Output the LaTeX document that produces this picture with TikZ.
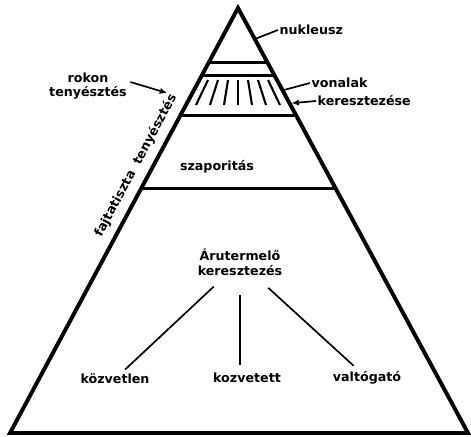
\documentclass[tikz,border=0pt]{standalone}
\usepackage{fontspec}
\setmainfont{DejaVu Sans}
\usetikzlibrary{arrows.meta,positioning,calc}

\begin{document}
\begin{tikzpicture}[
    font=\fontsize{9}{10.5}\selectfont\bfseries,
    >={Latex[length=1.8mm, width=1.6mm]},
    outline/.style={draw=black, line width=2.8pt, line join=miter},
    band/.style={draw=black, line width=2.1pt},
    hatch/.style={draw=black, line width=1.5pt},
    leader/.style={draw=black, line width=1.2pt},
    pointer/.style={->, line width=1.2pt},
    label/.style={inner sep=1pt, align=center},
]
    \useasboundingbox (0,0) rectangle (11.775,10.9);

    % --- Pyramid ---
    \coordinate (apex) at (5.95, 10.7);
    \coordinate (bl) at (0.25, 0.075);
    \coordinate (br) at (11.7, 0.075);
    \draw[outline] (apex) -- (bl) -- (br) -- cycle;

    % Level boundaries
    \coordinate (l1) at ($(apex)!0.129!(bl)$);
    \coordinate (r1) at ($(apex)!0.129!(br)$);
    \coordinate (l2) at ($(apex)!0.158!(bl)$);
    \coordinate (r2) at ($(apex)!0.158!(br)$);
    \coordinate (l3) at ($(apex)!0.252!(bl)$);
    \coordinate (r3) at ($(apex)!0.252!(br)$);
    \coordinate (l4) at ($(apex)!0.424!(bl)$);
    \coordinate (r4) at ($(apex)!0.424!(br)$);
    \draw[band] (l1) -- (r1);
    \draw[band] (l2) -- (r2);
    \draw[band] (l3) -- (r3);
    \draw[band] (l4) -- (r4);

    % Line crossing band (fan of strokes)
    \foreach \k in {-3,...,3}
        \draw[hatch] (5.95+0.25*\k, 8.9) -- (5.95+0.35*\k, 8.275);

    % --- Level texts ---
    \node[label] (szap) at (5.425, 6.725) {szaporitás};
    \node[label] (aru) at (6.0, 4.35) {Árutermelő\\keresztezés};

    \node[label] (kv1) at (2.875, 1.425) {közvetlen};
    \node[label] (kv2) at (6.175, 1.45) {kozvetett};
    \node[label] (kv3) at (9.175, 1.45) {valtógató};

    \draw[leader, shorten <=0.35cm, shorten >=0.1cm] (aru) -- (kv1);
    \draw[leader, shorten <=0.45cm, shorten >=0.15cm] (aru) -- (aru |- kv2.north);
    \draw[leader, shorten <=0.4cm, shorten >=0.15cm] (aru) -- (kv3);

    % --- Callouts on the right ---
    \coordinate (eNuk) at ($(apex)!0.072!(br)$);
    \coordinate (eVon) at ($(apex)!0.193!(br)$);
    \coordinate (eKer) at ($(apex)!0.224!(br)$);

    \node[label, anchor=west] (nuk) at (6.95, 10.15) {nukleusz};
    \node[label, anchor=west] (von) at (7.75, 8.825) {vonalak};
    \node[label, anchor=west] (ker) at (7.9, 8.375) {keresztezése};

    \draw[leader] ([xshift=1pt]eNuk) -- (nuk.west);
    \draw[leader] ([xshift=1pt]eVon) -- (von.west);
    \draw[pointer] (ker.west) -- ([xshift=1.5pt]eKer);

    % --- Callouts on the left ---
    \node[label] (rok) at (2.2, 8.75) {rokon\\tenyésztés};
    \coordinate (rokTip) at (4.175, 8.575);
    \draw[pointer] ([shift={(0.05,0.1)}]rok.east) -- (rokTip);

    \path (bl) -- (apex)
        node[pos=0.612, sloped, above=3pt] (fajta) {fajtatiszta\hspace{0.7em}tenyésztés};

\end{tikzpicture}
\end{document}
